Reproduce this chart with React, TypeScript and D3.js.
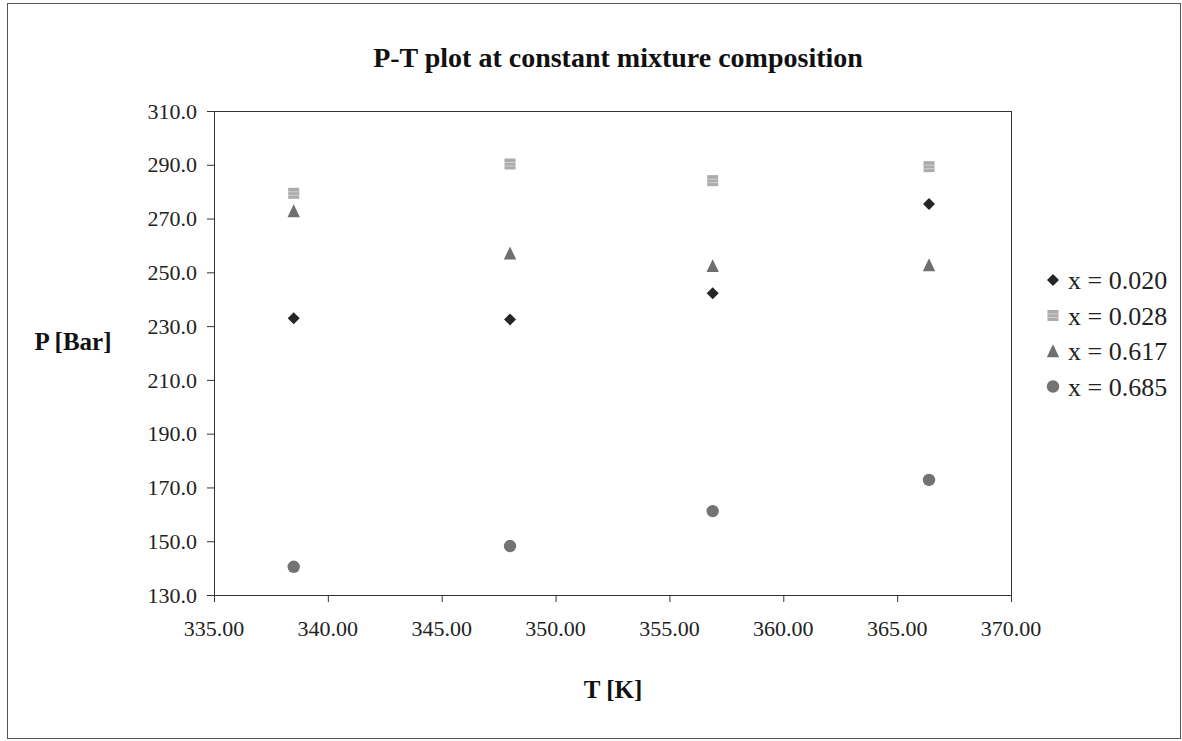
import React from "react";
import * as d3 from "d3";

const temperatures = [338.5, 348.0, 356.9, 366.4];
const seriesNames = ["x = 0.020", "x = 0.028", "x = 0.617", "x = 0.685"];
const p020 = [232.9, 232.5, 242.2, 275.4];
const p028 = [279.4, 290.3, 284.1, 289.3];
const p617 = [272.8, 257.1, 252.4, 252.7];
const p685 = [140.5, 148.2, 161.2, 172.8];
const yTicks = [130, 150, 170, 190, 210, 230, 250, 270, 290, 310];
const xTicks = [335, 340, 345, 350, 355, 360, 365, 370];

const W = 1182;
const H = 741;
const plot = { left: 214, right: 1011, top: 111, bottom: 595 };
const FONT = "'Liberation Serif', 'Times New Roman', serif";

const seriesValues = [p020, p028, p617, p685];
const shapes = ["diamond", "square", "triangle", "circle"];
const colors = ["#262626", "#ababab", "#6f6f6f", "#737373"];

function Marker({ shape, x, y, color }: { shape: string; x: number; y: number; color: string }) {
  if (shape === "diamond") {
    const r = 6;
    return <path d={`M${x},${y - r}L${x + r},${y}L${x},${y + r}L${x - r},${y}Z`} fill={color} />;
  }
  if (shape === "square") {
    const s = 11;
    return (
      <g>
        <rect x={x - s / 2} y={y - s / 2} width={s} height={s} fill={color} />
        <line x1={x - s / 2} x2={x + s / 2} y1={y - 1.5} y2={y - 1.5} stroke="#d0d0d0" strokeWidth={1} />
        <line x1={x - s / 2} x2={x + s / 2} y1={y + 2} y2={y + 2} stroke="#d0d0d0" strokeWidth={1} />
      </g>
    );
  }
  if (shape === "triangle") {
    const r = 6.2;
    return <path d={`M${x},${y - r - 0.5}L${x + r},${y + r}L${x - r},${y + r}Z`} fill={color} />;
  }
  return <circle cx={x} cy={y} r={6.2} fill={color} />;
}

export default function App() {
  const xScale = d3.scaleLinear().domain([335, 370]).range([plot.left, plot.right]);
  const yScale = d3.scaleLinear().domain([130, 310]).range([plot.bottom, plot.top]);

  const legendX = 1053;
  const legendY0 = 280;
  const legendStep = 35.5;

  return (
    <svg
      width={W}
      height={H}
      style={{ position: "absolute", left: 0, top: 0, background: "#fff" }}
      fontFamily={FONT}
    >
      <rect x={0} y={0} width={W} height={H} fill="#fff" />
      <rect x={7.5} y={3.5} width={1173} height={735} fill="none" stroke="#555" strokeWidth={1} />

      <text x={618} y={67} textAnchor="middle" fontSize={28} fontWeight="bold" fill="#111">
        P-T plot at constant mixture composition
      </text>

      <rect
        x={plot.left + 0.5}
        y={plot.top + 0.5}
        width={plot.right - plot.left}
        height={plot.bottom - plot.top}
        fill="none"
        stroke="#333"
        strokeWidth={1}
      />

      {yTicks.map((t) => (
        <g key={"y" + t}>
          <line x1={plot.left - 7} x2={plot.left} y1={yScale(t) + 0.5} y2={yScale(t) + 0.5} stroke="#333" />
          <text x={plot.left - 17} y={yScale(t)} dy="0.35em" textAnchor="end" fontSize={22} fill="#222">
            {d3.format(".1f")(t)}
          </text>
        </g>
      ))}

      {xTicks.map((t) => (
        <g key={"x" + t}>
          <line x1={xScale(t) + 0.5} x2={xScale(t) + 0.5} y1={plot.bottom} y2={plot.bottom + 7} stroke="#333" />
          <text x={xScale(t)} y={plot.bottom + 41} textAnchor="middle" fontSize={22} fill="#222">
            {d3.format(".2f")(t)}
          </text>
        </g>
      ))}

      <text x={73} y={341} dy="0.35em" textAnchor="middle" fontSize={25} fontWeight="bold" fill="#111">
        P [Bar]
      </text>
      <text x={613} y={698} textAnchor="middle" fontSize={25} fontWeight="bold" fill="#111">
        T [K]
      </text>

      {seriesValues.map((vals, si) =>
        vals.map((v, i) => (
          <Marker
            key={si + "-" + i}
            shape={shapes[si]}
            x={xScale(temperatures[i])}
            y={yScale(v)}
            color={colors[si]}
          />
        ))
      )}

      {seriesNames.map((name, si) => (
        <g key={"leg" + si}>
          <Marker shape={shapes[si]} x={legendX} y={legendY0 + si * legendStep} color={colors[si]} />
          <text x={legendX + 15} y={legendY0 + si * legendStep} dy="0.35em" fontSize={26} fill="#222">
            {name}
          </text>
        </g>
      ))}
    </svg>
  );
}
